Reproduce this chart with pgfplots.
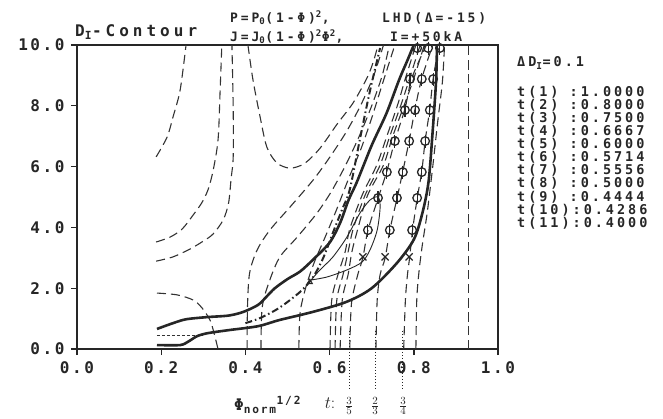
\documentclass[border=0pt]{standalone}
\usepackage{pgfplots}
\pgfplotsset{compat=1.18}
\usepackage{fontspec}
\newfontfamily\pfa[LetterSpace=16]{DejaVu Sans Mono}
\newfontfamily\pfb[LetterSpace=25]{DejaVu Sans Mono}
\newfontfamily\pfc[LetterSpace=22]{DejaVu Sans Mono}
\pgfplotsset{
  cont/.style={black!80, line width=1.1pt, dash pattern=on 9pt off 5pt, smooth},
  thickcurve/.style={black!85, line width=2.6pt, smooth},
}
\begin{document}
\begin{tikzpicture}
\useasboundingbox (-77pt,-69pt) rectangle (586pt,349pt);
\begin{axis}[
  at={(0,0)}, anchor=south west,
  scale only axis, width=421pt, height=304pt,
  xmin=0, xmax=1, ymin=0, ymax=10,
  xtick={0,0.2,0.4,0.6,0.8,1}, xticklabels={0.0,0.2,0.4,0.6,0.8,1.0},
  ytick={0,2,4,6,8,10}, yticklabels={0.0,2.0,4.0,6.0,8.0,10.0},
  tick pos=left, tick align=outside, major tick length=6pt,
  tick style={line width=1.4pt, black!85},
  axis line style={line width=1.8pt, black!85},
  ticklabel style={font=\pfa\bfseries\fontsize{16}{16}\selectfont, text=black!85},
  yticklabel style={xshift=-3pt},
  xticklabel style={yshift=-3pt},
  clip=false,
]
% dashed D_I contours
\addplot[cont] coordinates {(0.188,6.32)(0.214,6.97)(0.228,7.63)(0.245,8.52)(0.259,10)};
\addplot[cont] coordinates {(0.188,3.52)(0.221,3.68)(0.25,3.95)(0.276,4.41)(0.296,4.8)(0.311,5.23)(0.323,5.85)(0.335,6.88)(0.34,8.52)(0.344,10)};
\addplot[cont] coordinates {(0.188,2.89)(0.228,3.03)(0.27,3.3)(0.300,3.55)(0.323,3.78)(0.347,4.24)(0.36,4.8)(0.366,5.6)(0.371,6.32)(0.371,7.96)(0.368,10)};
\addplot[cont] coordinates {(0.406,10)(0.418,8.85)(0.435,7.63)(0.451,6.64)(0.475,6.12)(0.506,5.95)(0.54,6.1)(0.577,6.6)(0.618,7.4)(0.656,8.1)(0.69,8.95)(0.705,9.5)(0.715,10)};
\addplot[cont] coordinates {(0.19,1.84)(0.238,1.78)(0.276,1.61)(0.297,1.35)(0.316,0.95)(0.325,0.55)(0.335,0)};
\addplot[cont] coordinates {(0.404,0)(0.405,1.4)(0.41,2.5)(0.428,3.26)(0.458,3.91)(0.506,4.67)(0.561,5.56)(0.60,6.3)(0.64,7.15)(0.675,8.05)(0.705,9.0)(0.728,10)};
\addplot[cont] coordinates {(0.437,0)(0.44,1.38)(0.458,2.27)(0.482,3.03)(0.523,3.68)(0.57,4.47)(0.605,5.2)(0.64,6.1)(0.672,7.05)(0.70,8.0)(0.725,9.0)(0.742,10)};
\addplot[cont] coordinates {(0.527,0)(0.53,1.2)(0.545,2.1)(0.565,2.9)(0.59,3.7)(0.617,4.6)(0.645,5.6)(0.675,6.6)(0.70,7.6)(0.725,8.7)(0.755,10)};
\addplot[cont] coordinates {(0.601,0)(0.605,1.6)(0.62,2.45)(0.637,3.2)(0.648,3.95)(0.677,5.05)(0.712,6.05)(0.736,7.0)(0.762,8.05)(0.78,8.9)(0.805,10)};
\addplot[cont] coordinates {(0.613,0)(0.617,1.6)(0.632,2.45)(0.644,3.2)(0.656,3.95)(0.684,5.05)(0.72,6.05)(0.743,7.0)(0.77,8.05)(0.79,8.9)(0.815,10)};
\addplot[cont] coordinates {(0.625,0)(0.63,1.6)(0.644,2.45)(0.653,3.2)(0.667,3.95)(0.69,5.05)(0.728,6.05)(0.75,7.0)(0.778,8.05)(0.80,8.9)(0.825,10)};
\addplot[cont] coordinates {(0.648,0)(0.652,1.5)(0.667,2.45)(0.679,3.0)(0.691,3.9)(0.715,4.95)(0.736,5.85)(0.755,6.85)(0.779,7.9)(0.795,8.9)(0.83,10)};
\addplot[cont] coordinates {(0.710,0)(0.713,1.6)(0.72,2.45)(0.732,3.0)(0.743,3.9)(0.76,4.95)(0.774,5.85)(0.789,6.85)(0.803,7.9)(0.819,8.9)(0.845,10)};
\addplot[cont] coordinates {(0.776,0)(0.78,1.6)(0.785,2.45)(0.79,3.0)(0.797,3.9)(0.808,4.95)(0.819,5.85)(0.827,6.85)(0.838,7.9)(0.846,8.9)(0.86,10)};
\addplot[cont] coordinates {(0.805,0)(0.807,1.6)(0.812,2.5)(0.82,3.4)(0.832,4.5)(0.845,6.0)(0.857,7.5)(0.868,8.8)(0.873,10)};
\addplot[cont] coordinates {(0.93,0)(0.93,10)};
% thin lines
\addplot[black!80, line width=0.7pt, densely dashed] coordinates {(0.19,0.46)(0.30,0.46)};
\addplot[black!85, line width=0.9pt, smooth] coordinates {(0.556,2.27)(0.594,2.37)(0.641,2.6)(0.677,2.86)(0.696,3.26)(0.713,3.91)(0.72,4.67)(0.715,5.0)(0.696,4.9)(0.672,4.47)(0.641,3.68)(0.608,3.03)(0.577,2.6)(0.556,2.27)};
\addplot[only marks, mark=triangle, mark size=3pt, black!85, mark options={line width=0.9pt}] coordinates {(0.553,2.2)};
% thick boundaries
\addplot[thickcurve] coordinates {(0.19,0.66)(0.23,0.86)(0.26,0.98)(0.31,1.05)(0.36,1.1)(0.395,1.22)(0.43,1.45)(0.45,1.72)(0.47,2.0)(0.50,2.3)(0.53,2.55)(0.56,2.93)(0.60,3.5)(0.625,4.15)(0.645,4.9)(0.665,5.5)(0.70,6.7)(0.735,7.75)(0.765,8.85)(0.785,9.5)(0.80,10)};
\addplot[thickcurve] coordinates {(0.19,0.13)(0.245,0.13)(0.265,0.25)(0.285,0.42)(0.31,0.52)(0.36,0.62)(0.43,0.75)(0.48,0.95)(0.56,1.22)(0.64,1.55)(0.70,2.0)(0.76,2.83)(0.80,3.6)(0.82,4.45)(0.835,5.5)(0.845,7.2)(0.853,8.85)(0.855,10)};
\addplot[black!85, line width=2pt, dash pattern=on 7pt off 3pt on 1.5pt off 3pt, smooth] coordinates {(0.40,0.85)(0.435,1.02)(0.48,1.35)(0.53,1.88)(0.56,2.35)(0.585,3.0)(0.61,3.9)(0.63,4.6)(0.648,5.25)(0.672,6.9)(0.696,8.5)(0.72,9.9)};
% markers
\addplot[only marks, mark=|, mark size=6.5pt, black!85, mark options={line width=1.1pt}] coordinates {
(0.808,9.9)(0.834,9.9)(0.862,9.9)
(0.791,8.88)(0.819,8.88)(0.846,8.88)
(0.779,7.86)(0.803,7.86)(0.838,7.86)
(0.755,6.84)(0.789,6.84)(0.827,6.84)
(0.736,5.82)(0.774,5.82)(0.819,5.82)
(0.715,4.97)(0.760,4.97)(0.808,4.97)
(0.691,3.91)(0.743,3.91)(0.796,3.91)};
\addplot[only marks, mark=o, mark size=4.3pt, black!85, mark options={line width=1.3pt}] coordinates {
(0.808,9.9)(0.834,9.9)(0.862,9.9)
(0.791,8.88)(0.819,8.88)(0.846,8.88)
(0.779,7.86)(0.803,7.86)(0.838,7.86)
(0.755,6.84)(0.789,6.84)(0.827,6.84)
(0.736,5.82)(0.774,5.82)(0.819,5.82)
(0.715,4.97)(0.760,4.97)(0.808,4.97)
(0.691,3.91)(0.743,3.91)(0.796,3.91)};
\addplot[only marks, mark=x, mark size=5pt, black!85, mark options={line width=1.2pt}] coordinates {(0.679,3.03)(0.732,3.03)(0.789,3.03)};
% rational surfaces
\addplot[black!85, line width=1pt, dotted] coordinates {(0.647,0.6)(0.647,-1.35)};
\addplot[black!85, line width=1pt, dotted] coordinates {(0.709,0.6)(0.709,-1.35)};
\addplot[black!85, line width=1pt, dotted] coordinates {(0.774,0.6)(0.774,-1.35)};
\end{axis}
\begin{scope}[every node/.style={text=black!85, inner sep=0pt}]
\node[anchor=west, font=\pfb\bfseries\fontsize{16}{16}\selectfont] at (-2pt,317pt) {D\textsubscript{I}-Contour};
\node[anchor=west, font=\pfc\bfseries\fontsize{13}{13}\selectfont] at (153pt,331pt) {P=P\textsubscript{0}(1-Φ)\textsuperscript{2},};
\node[anchor=west, font=\pfc\bfseries\fontsize{13}{13}\selectfont] at (153pt,312pt) {J=J\textsubscript{0}(1-Φ)\textsuperscript{2}Φ\textsuperscript{2},};
\node[anchor=west, font=\pfc\bfseries\fontsize{13}{13}\selectfont] at (305pt,331pt) {LHD(Δ=-15)};
\node[anchor=west, font=\pfc\bfseries\fontsize{13}{13}\selectfont] at (313pt,312pt) {I=+50kA};
\node[anchor=west, font=\pfc\bfseries\fontsize{13.5}{13.5}\selectfont] at (440pt,286pt) {ΔD\textsubscript{I}=0.1};
\foreach \lab [count=\i] in {t(1) :1.0000, t(2) :0.8000, t(3) :0.7500, t(4) :0.6667, t(5) :0.6000, t(6) :0.5714, t(7) :0.5556, t(8) :0.5000, t(9) :0.4444, t(10):0.4286, t(11):0.4000}
  \node[anchor=west, font=\pfc\bfseries\fontsize{13.5}{13.5}\selectfont] at (440pt,{257pt-(\i-1)*13.1pt}) {\lab};
\node[anchor=west, font=\pfa\bfseries\fontsize{16}{16}\selectfont] at (157pt,-56pt) {Φ\textsubscript{norm}\textsuperscript{1/2}};
\node[font=\fontsize{16}{16}\selectfont] at (253pt,-54pt) {$t{:}$};
\node[font=\fontsize{15}{15}\selectfont] at (272pt,-57pt) {$\frac{3}{5}$};
\node[font=\fontsize{15}{15}\selectfont] at (298pt,-57pt) {$\frac{2}{3}$};
\node[font=\fontsize{15}{15}\selectfont] at (326pt,-57pt) {$\frac{3}{4}$};
\end{scope}
\end{tikzpicture}
\end{document}
